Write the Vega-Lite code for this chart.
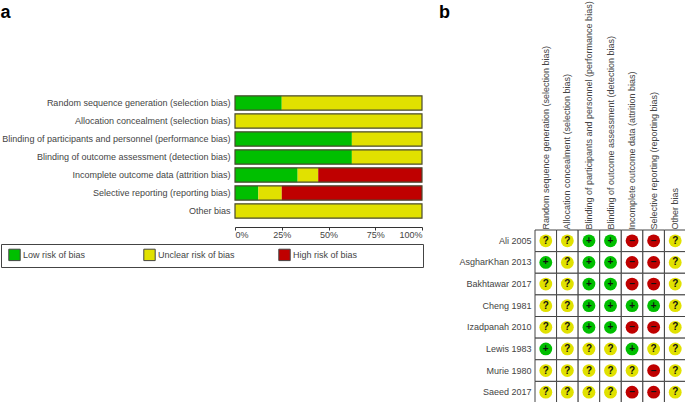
{
 "$schema":"https://vega.github.io/schema/vega-lite/v6.json",
 "padding":0,
 "background":"white",
 "spacing":113,
 "bounds":"flush",
 "config":{"view":{"stroke":null},"font":"Liberation Sans",
  "axis":{"labelFont":"Liberation Sans","labelFontSize":9,"labelColor":"#444444","title":null,"grid":false},
  "title":{"font":"Liberation Sans","fontSize":18,"fontWeight":"bold","color":"#000000","anchor":"start"}},
 "datasets":{
  "summary":[
   {"bias":"Random sequence generation (selection bias)","risk":"Low risk of bias","rank":1,"percent":25},
   {"bias":"Random sequence generation (selection bias)","risk":"Unclear risk of bias","rank":2,"percent":75},
   {"bias":"Allocation concealment (selection bias)","risk":"Unclear risk of bias","rank":2,"percent":100},
   {"bias":"Blinding of participants and personnel (performance bias)","risk":"Low risk of bias","rank":1,"percent":62.5},
   {"bias":"Blinding of participants and personnel (performance bias)","risk":"Unclear risk of bias","rank":2,"percent":37.5},
   {"bias":"Blinding of outcome assessment (detection bias)","risk":"Low risk of bias","rank":1,"percent":62.5},
   {"bias":"Blinding of outcome assessment (detection bias)","risk":"Unclear risk of bias","rank":2,"percent":37.5},
   {"bias":"Incomplete outcome data (attrition bias)","risk":"Low risk of bias","rank":1,"percent":33.5},
   {"bias":"Incomplete outcome data (attrition bias)","risk":"Unclear risk of bias","rank":2,"percent":11},
   {"bias":"Incomplete outcome data (attrition bias)","risk":"High risk of bias","rank":3,"percent":55.5},
   {"bias":"Selective reporting (reporting bias)","risk":"Low risk of bias","rank":1,"percent":12.5},
   {"bias":"Selective reporting (reporting bias)","risk":"Unclear risk of bias","rank":2,"percent":12.5},
   {"bias":"Selective reporting (reporting bias)","risk":"High risk of bias","rank":3,"percent":75},
   {"bias":"Other bias","risk":"Unclear risk of bias","rank":2,"percent":100}
  ],
  "outline":[
   {"bias":"Random sequence generation (selection bias)","total":100},
   {"bias":"Allocation concealment (selection bias)","total":100},
   {"bias":"Blinding of participants and personnel (performance bias)","total":100},
   {"bias":"Blinding of outcome assessment (detection bias)","total":100},
   {"bias":"Incomplete outcome data (attrition bias)","total":100},
   {"bias":"Selective reporting (reporting bias)","total":100},
   {"bias":"Other bias","total":100}
  ],
  "studies":[
   {"study":"Ali 2005","c":"Random sequence generation (selection bias)","risk":"Unclear","sign":"?"},
   {"study":"Ali 2005","c":"Allocation concealment (selection bias)","risk":"Unclear","sign":"?"},
   {"study":"Ali 2005","c":"Blinding of participants and personnel (performance bias)","risk":"Low","sign":"+"},
   {"study":"Ali 2005","c":"Blinding of outcome assessment (detection bias)","risk":"Low","sign":"+"},
   {"study":"Ali 2005","c":"Incomplete outcome data (attrition bias)","risk":"High","sign":"−"},
   {"study":"Ali 2005","c":"Selective reporting (reporting bias)","risk":"High","sign":"−"},
   {"study":"Ali 2005","c":"Other bias","risk":"Unclear","sign":"?"},
   {"study":"AsgharKhan 2013","c":"Random sequence generation (selection bias)","risk":"Low","sign":"+"},
   {"study":"AsgharKhan 2013","c":"Allocation concealment (selection bias)","risk":"Unclear","sign":"?"},
   {"study":"AsgharKhan 2013","c":"Blinding of participants and personnel (performance bias)","risk":"Low","sign":"+"},
   {"study":"AsgharKhan 2013","c":"Blinding of outcome assessment (detection bias)","risk":"Low","sign":"+"},
   {"study":"AsgharKhan 2013","c":"Incomplete outcome data (attrition bias)","risk":"High","sign":"−"},
   {"study":"AsgharKhan 2013","c":"Selective reporting (reporting bias)","risk":"High","sign":"−"},
   {"study":"AsgharKhan 2013","c":"Other bias","risk":"Unclear","sign":"?"},
   {"study":"Bakhtawar 2017","c":"Random sequence generation (selection bias)","risk":"Unclear","sign":"?"},
   {"study":"Bakhtawar 2017","c":"Allocation concealment (selection bias)","risk":"Unclear","sign":"?"},
   {"study":"Bakhtawar 2017","c":"Blinding of participants and personnel (performance bias)","risk":"Low","sign":"+"},
   {"study":"Bakhtawar 2017","c":"Blinding of outcome assessment (detection bias)","risk":"Low","sign":"+"},
   {"study":"Bakhtawar 2017","c":"Incomplete outcome data (attrition bias)","risk":"High","sign":"−"},
   {"study":"Bakhtawar 2017","c":"Selective reporting (reporting bias)","risk":"High","sign":"−"},
   {"study":"Bakhtawar 2017","c":"Other bias","risk":"Unclear","sign":"?"},
   {"study":"Cheng 1981","c":"Random sequence generation (selection bias)","risk":"Unclear","sign":"?"},
   {"study":"Cheng 1981","c":"Allocation concealment (selection bias)","risk":"Unclear","sign":"?"},
   {"study":"Cheng 1981","c":"Blinding of participants and personnel (performance bias)","risk":"Low","sign":"+"},
   {"study":"Cheng 1981","c":"Blinding of outcome assessment (detection bias)","risk":"Low","sign":"+"},
   {"study":"Cheng 1981","c":"Incomplete outcome data (attrition bias)","risk":"Low","sign":"+"},
   {"study":"Cheng 1981","c":"Selective reporting (reporting bias)","risk":"Low","sign":"+"},
   {"study":"Cheng 1981","c":"Other bias","risk":"Unclear","sign":"?"},
   {"study":"Izadpanah 2010","c":"Random sequence generation (selection bias)","risk":"Unclear","sign":"?"},
   {"study":"Izadpanah 2010","c":"Allocation concealment (selection bias)","risk":"Unclear","sign":"?"},
   {"study":"Izadpanah 2010","c":"Blinding of participants and personnel (performance bias)","risk":"Low","sign":"+"},
   {"study":"Izadpanah 2010","c":"Blinding of outcome assessment (detection bias)","risk":"Low","sign":"+"},
   {"study":"Izadpanah 2010","c":"Incomplete outcome data (attrition bias)","risk":"High","sign":"−"},
   {"study":"Izadpanah 2010","c":"Selective reporting (reporting bias)","risk":"High","sign":"−"},
   {"study":"Izadpanah 2010","c":"Other bias","risk":"Unclear","sign":"?"},
   {"study":"Lewis 1983","c":"Random sequence generation (selection bias)","risk":"Low","sign":"+"},
   {"study":"Lewis 1983","c":"Allocation concealment (selection bias)","risk":"Unclear","sign":"?"},
   {"study":"Lewis 1983","c":"Blinding of participants and personnel (performance bias)","risk":"Unclear","sign":"?"},
   {"study":"Lewis 1983","c":"Blinding of outcome assessment (detection bias)","risk":"Unclear","sign":"?"},
   {"study":"Lewis 1983","c":"Incomplete outcome data (attrition bias)","risk":"Low","sign":"+"},
   {"study":"Lewis 1983","c":"Selective reporting (reporting bias)","risk":"Unclear","sign":"?"},
   {"study":"Lewis 1983","c":"Other bias","risk":"Unclear","sign":"?"},
   {"study":"Murie 1980","c":"Random sequence generation (selection bias)","risk":"Unclear","sign":"?"},
   {"study":"Murie 1980","c":"Allocation concealment (selection bias)","risk":"Unclear","sign":"?"},
   {"study":"Murie 1980","c":"Blinding of participants and personnel (performance bias)","risk":"Unclear","sign":"?"},
   {"study":"Murie 1980","c":"Blinding of outcome assessment (detection bias)","risk":"Unclear","sign":"?"},
   {"study":"Murie 1980","c":"Incomplete outcome data (attrition bias)","risk":"Unclear","sign":"?"},
   {"study":"Murie 1980","c":"Selective reporting (reporting bias)","risk":"High","sign":"−"},
   {"study":"Murie 1980","c":"Other bias","risk":"Unclear","sign":"?"},
   {"study":"Saeed 2017","c":"Random sequence generation (selection bias)","risk":"Unclear","sign":"?"},
   {"study":"Saeed 2017","c":"Allocation concealment (selection bias)","risk":"Unclear","sign":"?"},
   {"study":"Saeed 2017","c":"Blinding of participants and personnel (performance bias)","risk":"Unclear","sign":"?"},
   {"study":"Saeed 2017","c":"Blinding of outcome assessment (detection bias)","risk":"Unclear","sign":"?"},
   {"study":"Saeed 2017","c":"Incomplete outcome data (attrition bias)","risk":"High","sign":"−"},
   {"study":"Saeed 2017","c":"Selective reporting (reporting bias)","risk":"High","sign":"−"},
   {"study":"Saeed 2017","c":"Other bias","risk":"Unclear","sign":"?"}
  ]
 },
 "resolve":{"scale":{"color":"independent","x":"independent","y":"independent"}},
 "hconcat":[
  {
   "title":{"text":"a","offset":72},
   "width":187,"height":126,
   "encoding":{
    "y":{"field":"bias","type":"nominal","title":null,
     "sort":["Random sequence generation (selection bias)","Allocation concealment (selection bias)","Blinding of participants and personnel (performance bias)","Blinding of outcome assessment (detection bias)","Incomplete outcome data (attrition bias)","Selective reporting (reporting bias)","Other bias"],
     "scale":{"paddingInner":0.2,"paddingOuter":0.1},
     "axis":{"domain":false,"ticks":false,"labelPadding":5,"labelLimit":300}}
   },
   "layer":[
    {"data":{"name":"summary"},
     "mark":{"type":"bar"},
     "encoding":{
      "x":{"field":"percent","type":"quantitative","stack":"zero","title":null,
       "scale":{"domain":[0,100],"nice":false},
       "axis":{"values":[0,25,50,75,100],"labelExpr":"datum.value + '%'","labelFlush":true,"offset":7,"tickSize":3,"tickColor":"#333333","domainColor":"#333333","labelPadding":0}},
      "color":{"field":"risk","type":"nominal",
       "scale":{"domain":["Low risk of bias","Unclear risk of bias","High risk of bias"],"range":["#00BF00","#E1E100","#BF0000"]},
       "legend":{"orient":"none","legendX":-234,"legendY":150,"title":" ","titleOrient":"right","titlePadding":62,"direction":"horizontal","columns":3,"gridAlign":"all","columnPadding":40,"symbolType":"square","symbolSize":130,"symbolStrokeColor":"#444444","symbolStrokeWidth":1,"symbolOffset":3,"labelFontSize":9,"labelColor":"#444444","labelFont":"Liberation Sans","labelOffset":2,"padding":4,"strokeColor":"#444444","fillColor":"#ffffff"}},
      "order":{"field":"rank","type":"quantitative"}
     }},
    {"data":{"name":"outline"},
     "mark":{"type":"bar","fillOpacity":0,"stroke":"#4a4a30","strokeWidth":1.2},
     "encoding":{"x":{"field":"total","type":"quantitative","stack":null}}}
   ]
  },
  {
   "bounds":"flush",
   "spacing":135,
   "vconcat":[
    {
     "title":{"text":"b","offset":72,"dx":-96},
     "width":151,"height":1,
     "data":{"values":[]},
     "mark":{"type":"rect"},
     "encoding":{}
    },
    {
     "width":151,"height":173,
     "data":{"name":"studies"},
     "encoding":{
      "x":{"field":"c","type":"nominal","title":null,
       "sort":["Random sequence generation (selection bias)","Allocation concealment (selection bias)","Blinding of participants and personnel (performance bias)","Blinding of outcome assessment (detection bias)","Incomplete outcome data (attrition bias)","Selective reporting (reporting bias)","Other bias"],
       "axis":{"orient":"top","labelAngle":-90,"labelAlign":"left","labelBaseline":"middle","domain":false,"ticks":false,"labelPadding":1,"labelLimit":300}},
      "y":{"field":"study","type":"nominal","title":null,
       "sort":["Ali 2005","AsgharKhan 2013","Bakhtawar 2017","Cheng 1981","Izadpanah 2010","Lewis 1983","Murie 1980","Saeed 2017"],
       "axis":{"domain":false,"ticks":false,"labelPadding":4,"labelLimit":200}}
     },
     "layer":[
      {"mark":{"type":"rect","fill":"white","stroke":"#444444","strokeWidth":1}},
      {"mark":{"type":"point","filled":true,"opacity":1,"size":165},
       "encoding":{"color":{"field":"risk","type":"nominal","legend":null,
        "scale":{"domain":["Low","Unclear","High"],"range":["#00BF00","#E1E100","#BF0000"]}}}},
      {"mark":{"type":"text","fontSize":10,"fontWeight":"bold","color":"#111111","font":"Liberation Sans"},
       "encoding":{"text":{"field":"sign","type":"nominal"}}}
     ]
    }
   ]
  }
 ]
}
